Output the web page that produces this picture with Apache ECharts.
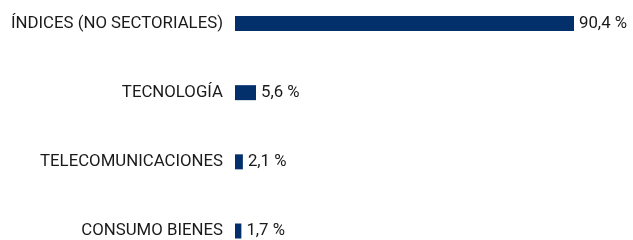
<!DOCTYPE html>
<html>
<head>
<meta charset="utf-8">
<script src="https://cdn.jsdelivr.net/npm/echarts@6/dist/echarts.min.js"></script>
<style>
  html, body { margin: 0; padding: 0; background: #fff; }
  #chart { width: 633px; height: 240px; }
</style>
</head>
<body>
<div id="chart"></div>
<script>
// categorías de arriba abajo
const categories = ['ÍNDICES (NO SECTORIALES)', 'TECNOLOGÍA', 'TELECOMUNICACIONES', 'CONSUMO BIENES'];
const values = [90.4, 5.6, 2.1, 1.7];

const chart = echarts.init(document.getElementById('chart'), null, { renderer: 'canvas' });
const FONT = 'Roboto';

chart.setOption({
  animation: false,
  backgroundColor: '#fff',
  grid: { left: 235, right: 23, top: 23.5, bottom: 9 },
  xAxis: {
    type: 'value',
    min: 0,
    max: 100,
    show: false,
  },
  yAxis: {
    type: 'category',
    data: categories,
    inverse: true,
    boundaryGap: false,
    axisLine: { show: false },
    axisTick: { show: false },
    splitLine: { show: false },
    axisLabel: {
      margin: 12,
      color: '#1a1a1a',
      fontFamily: FONT,
      fontSize: 16.8,
    },
  },
  series: [{
    type: 'bar',
    data: values,
    barWidth: 15,
    itemStyle: { color: '#03306b' },
    label: {
      show: true,
      position: 'right',
      distance: 5,
      color: '#1a1a1a',
      fontFamily: FONT,
      fontSize: 16.8,
      formatter: (p) => p.value.toFixed(1).replace('.', ',') + ' %',
    },
  }],
});
</script>
</body>
</html>
